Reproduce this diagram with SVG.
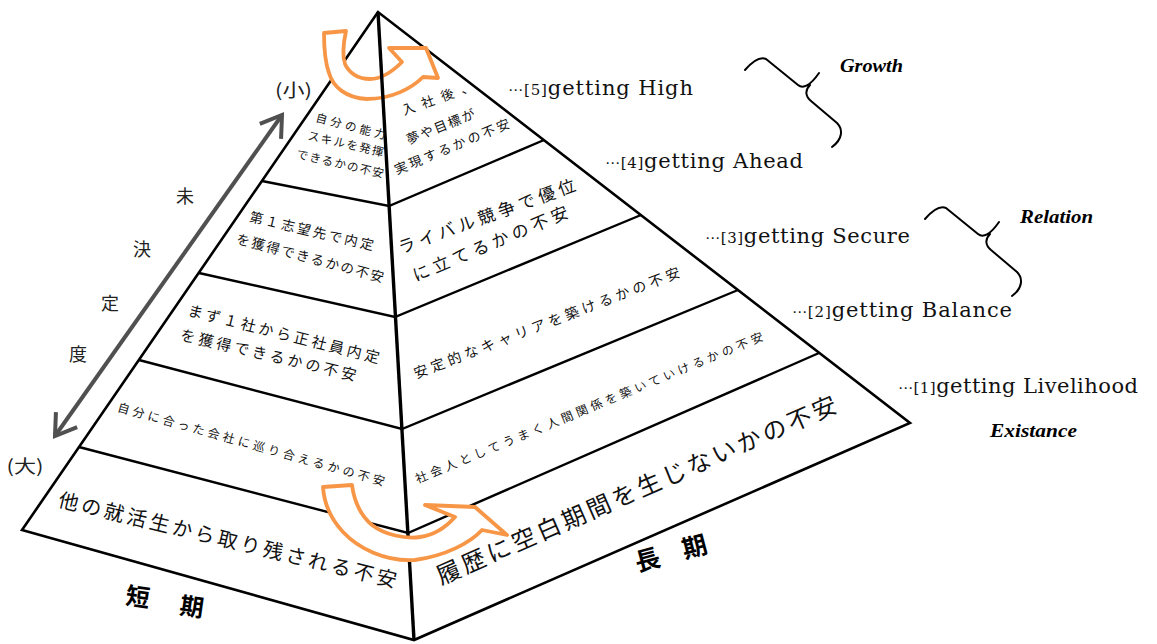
<svg xmlns="http://www.w3.org/2000/svg" width="1157" height="644" viewBox="0 0 1157 644">
<style>
.edge{fill:none;stroke:#000;stroke-width:2.6;stroke-linejoin:miter}
.band{fill:none;stroke:#000;stroke-width:2.4}
.center{fill:none;stroke:#000;stroke-width:3.4}
.orange{fill:#fff;stroke:#F79646;stroke-width:3.8;stroke-linejoin:round}
.jp{font-family:"Noto Sans CJK JP","Noto Sans CJK SC",sans-serif;fill:#111;text-anchor:middle;dominant-baseline:central}
.lab{font-family:"Noto Sans CJK JP","Noto Sans CJK SC",sans-serif;fill:#222;text-anchor:middle;dominant-baseline:central}
.bold{font-family:"Noto Sans CJK JP","Noto Sans CJK SC",sans-serif;font-weight:bold;fill:#000;text-anchor:middle;dominant-baseline:central}
.lvl{font-family:"DejaVu Serif","Liberation Serif",serif;font-size:21px;fill:#111}
.dots{font-family:"DejaVu Sans",sans-serif;font-size:15px}
.num{font-size:15px}
.cat{font-family:"Liberation Serif",serif;font-weight:bold;font-style:italic;font-size:19px;fill:#000}
.brace{fill:none;stroke:#000;stroke-width:2;stroke-linecap:round;stroke-linejoin:round}
.scale{fill:none;stroke:#505050;stroke-width:4}
</style>
<defs>
<marker id="chev" markerUnits="userSpaceOnUse" viewBox="0 0 26 32" refX="23" refY="16" markerWidth="26" markerHeight="32" orient="auto-start-reverse">
<path d="M3,3 L23,16 L3,29" fill="none" stroke="#505050" stroke-width="4" stroke-linejoin="miter"/>
</marker>
</defs>
<rect width="1157" height="644" fill="#fff"/>

<g id="pyramid">
<path class="edge" d="M378,12 L22,530 L414,640 L910,423 Z"/>
<path class="band" d="M262,181 L389,206 L544,140"/>
<path class="band" d="M199,273 L395,317 L641,215"/>
<path class="band" d="M139,360 L402,429 L738,290"/>
<path class="band" d="M79,447 L408,533 L819,353"/>
</g>

<g id="connectors">
<path id="arrow-top" class="orange" d="M324,33 L346,31 C343,45 342,55 345,64 C349,73 358,79 370,79 C380,79 390,74 402,62 L389,48 L426,48 L438,78 L423,77 C412,88 392,99 367,99 C346,98 333,87 329,73 C325,62 324,48 324,33 Z"/>
<path class="center" d="M378,12 L414,640"/>
<path id="arrow-bottom" class="orange" d="M323,487 L352,485 C354,500 360,515 372,525 C385,535 405,539 420,537 C435,535 447,526 455,517 L425,505 L475,507 L507,535 L482,530 C470,543 445,556 415,560 C385,562 358,548 343,532 C330,518 324,502 323,487 Z"/>
<path id="scale-arrow" class="scale" d="M55,436 L282,115" marker-start="url(#chev)" marker-end="url(#chev)"/>
</g>

<g id="left-5">
<text class="jp" font-size="11.5" x="351" y="125.5" textLength="72" lengthAdjust="spacing" transform="rotate(14.5 351 125.5)">自分の能力</text>
<text class="jp" font-size="11.5" x="346" y="143" textLength="77" lengthAdjust="spacing" transform="rotate(13 346 143)">スキルを発揮</text>
<text class="jp" font-size="11.5" x="340.5" y="163" textLength="89" lengthAdjust="spacing" transform="rotate(13 340.5 163)">できるかの不安</text>
</g>
<g id="left-4">
<text class="jp" font-size="13.5" x="312" y="230" textLength="127" lengthAdjust="spacing" transform="rotate(13.3 312 230)">第１志望先で内定</text>
<text class="jp" font-size="13.5" x="310.5" y="257" textLength="152" lengthAdjust="spacing" transform="rotate(15 310.5 257)">を獲得できるかの不安</text>
</g>
<g id="left-3">
<text class="jp" font-size="15" x="284" y="333" textLength="197" lengthAdjust="spacing" transform="rotate(14.1 284 333)">まず１社から正社員内定</text>
<text class="jp" font-size="15" x="268.7" y="354" textLength="180" lengthAdjust="spacing" transform="rotate(13.2 268.7 354)">を獲得できるかの不安</text>
</g>
<g id="left-2">
<text class="jp" font-size="12" x="251.5" y="443.2" textLength="277" lengthAdjust="spacing" transform="rotate(15.7 251.5 443.2)">自分に合った会社に巡り合えるかの不安</text>
</g>
<g id="left-1">
<text class="jp" font-size="20" x="228" y="538.7" textLength="347" lengthAdjust="spacing" transform="rotate(13.6 228 538.7)">他の就活生から取り残される不安</text>
</g>

<g id="right-5">
<text class="jp" font-size="13" x="437.4" y="97.6" textLength="75" lengthAdjust="spacing" transform="rotate(-19.5 437.4 97.6)">入社後、</text>
<text class="jp" font-size="13" x="440.3" y="125.9" textLength="72.5" lengthAdjust="spacing" transform="rotate(-21.9 440.3 125.9)">夢や目標が</text>
<text class="jp" font-size="13" x="451.7" y="145.9" textLength="123.5" lengthAdjust="spacing" transform="rotate(-22.6 451.7 145.9)">実現するかの不安</text>
</g>
<g id="right-4">
<text class="jp" font-size="17" x="486.2" y="215" textLength="187" lengthAdjust="spacing" transform="rotate(-20 486.2 215)">ライバル競争で優位</text>
<text class="jp" font-size="17" x="489.8" y="242.4" textLength="167" lengthAdjust="spacing" transform="rotate(-22.8 489.8 242.4)">に立てるかの不安</text>
</g>
<g id="right-3">
<text class="jp" font-size="14" x="546.5" y="322" textLength="284" lengthAdjust="spacing" transform="rotate(-21.1 546.5 322)">安定的なキャリアを築けるかの不安</text>
</g>
<g id="right-2">
<text class="jp" font-size="12" x="588.7" y="406.7" textLength="375" lengthAdjust="spacing" transform="rotate(-22.5 588.7 406.7)">社会人としてうまく人間関係を築いていけるかの不安</text>
</g>
<g id="right-1">
<text class="jp" font-size="24" x="635.7" y="488.4" textLength="434" lengthAdjust="spacing" transform="rotate(-23.6 635.7 488.4)">履歴に空白期間を生じないかの不安</text>
</g>

<g id="scale-labels">
<text class="lab" font-size="18" x="293.5" y="88.5" textLength="37" lengthAdjust="spacingAndGlyphs">(小)</text>
<text class="lab" font-size="18" x="25" y="465" textLength="37" lengthAdjust="spacingAndGlyphs">(大)</text>
<text class="lab" font-size="18" x="185" y="195">未</text>
<text class="lab" font-size="18" x="142" y="248">決</text>
<text class="lab" font-size="18" x="110" y="302">定</text>
<text class="lab" font-size="18" x="78" y="353">度</text>
</g>

<g id="term-labels">
<text class="bold" font-size="24" x="138" y="595" transform="rotate(8 138 595)">短</text>
<text class="bold" font-size="24" x="192" y="605" transform="rotate(8 192 605)">期</text>
<text class="bold" font-size="25" x="647" y="558" transform="rotate(-15 647 558)">長</text>
<text class="bold" font-size="25" x="694" y="545" transform="rotate(-15 694 545)">期</text>
</g>

<g id="level-5"><text class="lvl" x="508" y="95" textLength="185" lengthAdjust="spacing"><tspan class="dots">⋯</tspan><tspan class="num">[5]</tspan>getting High</text></g>
<g id="level-4"><text class="lvl" x="605" y="168" textLength="198" lengthAdjust="spacing"><tspan class="dots">⋯</tspan><tspan class="num">[4]</tspan>getting Ahead</text></g>
<g id="level-3"><text class="lvl" x="705" y="243" textLength="205" lengthAdjust="spacing"><tspan class="dots">⋯</tspan><tspan class="num">[3]</tspan>getting Secure</text></g>
<g id="level-2"><text class="lvl" x="792" y="317" textLength="220" lengthAdjust="spacing"><tspan class="dots">⋯</tspan><tspan class="num">[2]</tspan>getting Balance</text></g>
<g id="level-1"><text class="lvl" x="898" y="393" textLength="240" lengthAdjust="spacing"><tspan class="dots">⋯</tspan><tspan class="num">[1]</tspan>getting Livelihood</text></g>

<g id="growth">
<path class="brace" d="M745,70 C752,62 759,56 766,59 L798,85 C803,89 810,86 819,73 M810,85 C805,90 805,96 811,101 L837,123 C843,129 843,139 832,147"/>
<text class="cat" x="840" y="72" textLength="63" lengthAdjust="spacingAndGlyphs">Growth</text>
</g>
<g id="relation">
<path class="brace" d="M925,219 C932,211 939,205 946,208 L978,234 C983,238 990,235 999,222 M990,234 C985,239 985,245 991,250 L1017,272 C1023,278 1023,288 1012,296"/>
<text class="cat" x="1020" y="223" textLength="73" lengthAdjust="spacingAndGlyphs">Relation</text>
</g>
<g id="existance">
<text class="cat" x="990" y="437" textLength="87" lengthAdjust="spacingAndGlyphs">Existance</text>
</g>
</svg>
